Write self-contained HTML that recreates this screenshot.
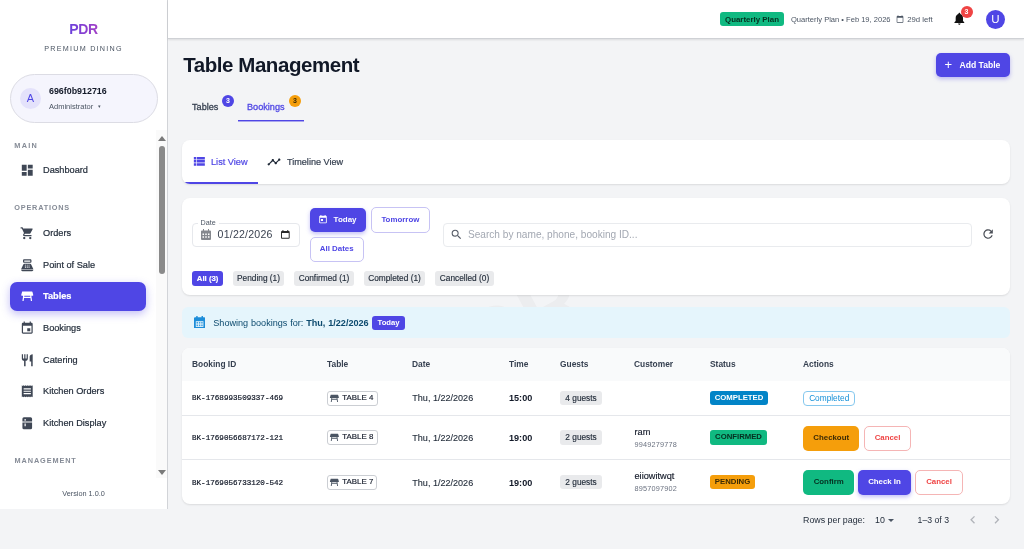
<!DOCTYPE html>
<html lang="en">
<head>
<meta charset="utf-8">
<title>Table Management</title>
<style>
*{box-sizing:border-box;margin:0;padding:0}
html,body{width:1024px;height:549px;overflow:hidden}
body{font-family:"Liberation Sans",sans-serif;background:#f3f4f6;color:#1f2937;position:relative}
.abs{position:absolute}
/* sidebar */
#side{position:absolute;left:0;top:0;width:168px;height:509px;background:#fff;border-right:1px solid #d2d4d8}
#brand{position:absolute;left:0;top:21px;width:167px;text-align:center;font-weight:700;font-size:14px;letter-spacing:-0.3px;line-height:16px}
#brand span{background:linear-gradient(90deg,#6a40dc,#a23fc6);-webkit-background-clip:text;background-clip:text;color:transparent}
#brand2{position:absolute;left:0;top:43.700px;width:167px;text-align:center;font-size:7.2px;letter-spacing:1.25px;color:#4b5563}
#user{position:absolute;left:10px;top:74px;width:148px;height:49px;border-radius:25px;background:#f5f5fd;border:1px solid #dcdce4}
#user .av{position:absolute;left:9px;top:13px;width:21px;height:21px;border-radius:50%;background:#e4e2fb;color:#4f46e5;font-size:11px;text-align:center;line-height:20px}
#user .nm{position:absolute;left:38px;top:10.500px;font-size:8.900px;font-weight:700;color:#111827}
#user .rl{position:absolute;left:38px;top:26.600px;font-size:7.500px;color:#4b5563}
.sec{position:absolute;left:14.300px;font-size:7.300px;letter-spacing:0.9px;color:#858b96;font-weight:700}
.nav{position:absolute;left:10px;width:136px;height:29px;border-radius:7px;font-size:9.2px;color:#1f2937}
.nav span{position:absolute;left:33px;top:9.300px;font-weight:500;-webkit-text-stroke:0.2px currentColor}
.nav svg{position:absolute;left:9.500px;top:7.300px;width:14.500px;height:14.500px;fill:#3f4755}
.nav.on{background:#4f46e5;color:#fff;box-shadow:0 3px 8px rgba(79,70,229,.35)}
.nav.on span{font-weight:700}
.nav.on svg{fill:#fff}
#sbtrack{position:absolute;left:156px;top:130px;width:11px;height:348px;background:#fafafa}
#sbthumb{position:absolute;left:158.500px;top:145.500px;width:6.500px;height:128px;border-radius:3px;background:#8a8a8a}
#ver{position:absolute;left:0;top:488.700px;width:167px;text-align:center;font-size:7.300px;color:#4b5563}
/* topbar */
#top{position:absolute;left:168px;top:0;width:856px;height:39px;background:#fff;border-bottom:1px solid #cfd1d5;box-shadow:0 1px 2px rgba(0,0,0,.10)}

#top .plan{position:absolute;left:552px;top:12px;width:64px;height:14px;padding-top:0.500px;border-radius:3px;background:#10b981;color:#052e1f;font-size:7.900px;font-weight:700;text-align:center;line-height:14px}
#top .ptxt{position:absolute;left:623px;top:15.300px;font-size:7.550px;color:#4b5563;white-space:nowrap}
#bell{position:absolute;left:784.100px;top:11.200px;width:14.700px;height:15.200px}
#bbadge{position:absolute;left:792.500px;top:5.900px;width:12px;height:12px;border-radius:50%;background:#ef4444;color:#fff;font-size:7px;font-weight:700;text-align:center;line-height:12px}
#uav{position:absolute;left:818px;top:10px;width:19px;height:19px;border-radius:50%;background:#4f46e5;color:#fff;font-size:11.5px;text-align:center;line-height:19px}
h1{position:absolute;left:183.200px;top:53px;font-size:20.500px;font-weight:700;color:#111827;white-space:nowrap;letter-spacing:-0.44px}
#addbtn{position:absolute;left:935.600px;top:53px;width:74.400px;height:24px;border-radius:5px;background:#4f46e5;color:#fff;font-size:8.600px;font-weight:700;box-shadow:0 2px 4px rgba(79,70,229,.35)}
.tab{position:absolute;top:101.700px;font-size:9.150px;font-weight:500;-webkit-text-stroke:0.28px currentColor;white-space:nowrap}
.bdg{position:absolute;top:95px;width:12px;height:12px;border-radius:50%;font-size:7px;font-weight:700;text-align:center;line-height:12.600px}
.card{position:absolute;left:182px;width:828px;background:#fff;border-radius:8px;box-shadow:0 1px 2px rgba(0,0,0,.10)}
.obtn{position:absolute;border:1px solid #c7c3f4;border-radius:5px;background:#fff;color:#4f46e5;font-size:7.900px;font-weight:700;text-align:center}
.chip{position:absolute;top:271.200px;height:14.500px;border-radius:3px;background:#e9eaec;color:#1f2937;font-size:8.300px;font-weight:500;text-align:center;line-height:15px;white-space:nowrap;-webkit-text-stroke:0.15px currentColor}
.th{position:absolute;top:358.800px;font-size:8.400px;font-weight:700;color:#374151;white-space:nowrap}
.mono{position:absolute;left:192px;font-family:"Liberation Mono",monospace;font-size:7.600px;color:#111827;white-space:nowrap;font-weight:500;-webkit-text-stroke:0.2px #111827}
.tchip{position:absolute;left:327px;height:14.700px;border:1px solid #cbced3;border-radius:3px;background:#fff;font-size:7.900px;color:#111827;line-height:12.700px;white-space:nowrap;-webkit-text-stroke:0.15px #111827}
.tchip svg{position:absolute;left:1px;top:0.900px;width:10.800px;height:10.800px;fill:#4b5563}
.tchip span{position:absolute;left:14.300px;top:0}
.dt{position:absolute;left:412.300px;font-size:9.050px;color:#1f2937;white-space:nowrap;margin-top:-0.300px;-webkit-text-stroke:0.12px #1f2937}
.tm{position:absolute;left:509px;margin-top:0.900px;font-size:9.100px;font-weight:700;color:#111827}
.gchip{position:absolute;left:560.300px;width:41.500px;height:14.300px;border-radius:3px;background:#e9eaec;font-size:8.300px;color:#1f2937;text-align:center;line-height:14.500px;font-weight:500;-webkit-text-stroke:0.15px #1f2937}
.cn{position:absolute;left:634.500px;font-size:9.200px;margin-top:-0.300px;-webkit-text-stroke:0.15px #111827;color:#111827;white-space:nowrap}
.cp{position:absolute;left:634.500px;margin-top:0.400px;font-size:7.300px;color:#6b7280;white-space:nowrap;letter-spacing:.2px}
.st{position:absolute;left:710px;height:14.300px;border-radius:3px;font-size:7.750px;font-weight:700;text-align:center;line-height:14.500px;letter-spacing:0}
.ab{position:absolute;height:25px;border-radius:5px;font-size:7.850px;font-weight:700;text-align:center;line-height:23.400px}
.hr{position:absolute;left:182px;width:828px;height:1px;background:#e5e7eb}
.pg{position:absolute;top:514.900px;font-size:8.850px;color:#1f2937;white-space:nowrap}
</style>
</head>
<body>
<div id="side">
  <div id="brand"><span>PDR</span></div>
  <div id="brand2">PREMIUM DINING</div>
  <div id="user"><div class="av">A</div><div class="nm">696f0b912716</div><div class="rl">Administrator &nbsp;<span style="font-size:4.200px;position:relative;top:-1px">▼</span></div></div>
  <div class="sec" style="top:140.500px;letter-spacing:1.25px">MAIN</div>
  <div class="nav" style="top:155.700px"><svg viewBox="0 0 24 24"><path d="M3 13h8V3H3v10zm0 8h8v-6H3v6zm10 0h8V11h-8v10zm0-18v6h8V3h-8z"/></svg><span>Dashboard</span></div>
  <div class="sec" style="top:203px;letter-spacing:0.8px">OPERATIONS</div>
  <div class="nav" style="top:218.600px"><svg viewBox="0 0 24 24"><path d="M7 18c-1.1 0-1.99.9-1.99 2S5.900 22 7 22s2-.9 2-2-.9-2-2-2zM1 2v2h2l3.600 7.590-1.350 2.450c-.16.28-.25.61-.25.96 0 1.100.9 2 2 2h12v-2H7.420c-.14 0-.25-.11-.25-.25l.03-.12.9-1.630h7.450c.75 0 1.410-.41 1.750-1.030l3.580-6.490A1.003 1.003 0 0 0 20 4H5.210l-.94-2H1zm16 16c-1.100 0-1.990.9-1.990 2s.89 2 1.990 2 2-.9 2-2-.9-2-2-2z"/></svg><span>Orders</span></div>
  <div class="nav" style="top:250.600px"><svg viewBox="0 0 24 24"><path d="M17 2H7c-1.100 0-2 .9-2 2v2c0 1.100.9 2 2 2h10c1.100 0 2-.9 2-2V4c0-1.100-.9-2-2-2zm0 4H7V4h10v2zm3 16H4c-1.100 0-2-.9-2-2v-1h20v1c0 1.100-.9 2-2 2zm-1.470-11.190C18.210 10.060 17.490 9.600 16.700 9.600H7.300c-.79 0-1.510.46-1.830 1.190L2 18h20l-3.470-7.190zM9.500 16h-1c-.28 0-.5-.22-.5-.5s.22-.5.5-.5h1c.28 0 .5.22.5.5s-.22.5-.5.5zm0-2h-1c-.28 0-.5-.22-.5-.5s.22-.5.5-.5h1c.28 0 .5.22.5.5s-.22.5-.5.5zm0-2h-1c-.28 0-.5-.22-.5-.5s.22-.5.5-.5h1c.28 0 .5.220.5.500s-.22.500-.5.500zm3 4h-1c-.28 0-.5-.22-.5-.5s.22-.5.5-.5h1c.28 0 .5.220.5.500s-.22.500-.5.500zm0-2h-1c-.28 0-.5-.22-.5-.5s.22-.5.5-.5h1c.28 0 .5.220.5.500s-.22.500-.5.500zm0-2h-1c-.28 0-.5-.22-.5-.5s.22-.5.5-.5h1c.28 0 .5.220.5.500s-.22.500-.5.500zm3 4h-1c-.28 0-.5-.22-.5-.5s.22-.5.5-.5h1c.28 0 .5.220.5.500s-.22.500-.5.500zm0-2h-1c-.28 0-.5-.22-.5-.5s.22-.5.5-.5h1c.28 0 .5.220.5.500s-.22.500-.5.500zm0-2h-1c-.28 0-.5-.22-.5-.5s.22-.5.5-.5h1c.28 0 .5.220.5.500s-.22.500-.5.500z"/></svg><span>Point of Sale</span></div>
  <div class="nav on" style="top:281.800px"><svg viewBox="0 0 24 24"><path d="M22 7.500C22 5.570 17.520 4 12 4S2 5.570 2 7.500c0 1.810 3.950 3.310 9 3.480V15H9.350c-.82 0-1.550.5-1.860 1.260L6 20h2l1.200-3h5.600l1.200 3h2l-1.500-3.740c-.3-.76-1.040-1.260-1.850-1.260H13v-4.020c5.050-.17 9-1.670 9-3.480z" style="display:none"/><path d="M21.960 9.730l-1.430-5a.996.996 0 0 0-.96-.73H4.430c-.45 0-.84.3-.96.730l-1.430 5c-.18.630.3 1.270.96 1.270h2.200L4 20h2l.67-5h10.670l.66 5h2l-1.200-9H21c.66 0 1.140-.64.960-1.270zM6.930 13l.27-2h9.600l.27 2H6.930z"/></svg><span>Tables</span></div>
  <div class="nav" style="top:313.400px"><svg viewBox="0 0 24 24"><path d="M17 12h-5v5h5v-5zM16 1v2H8V1H6v2H5c-1.110 0-1.990.9-1.990 2L3 19c0 1.100.89 2 2 2h14c1.100 0 2-.9 2-2V5c0-1.100-.9-2-2-2h-1V1h-2zm3 18H5V8h14v11z"/></svg><span>Bookings</span></div>
  <div class="nav" style="top:345.600px"><svg viewBox="0 0 24 24"><path d="M11 9H9V2H7v7H5V2H3v7c0 2.120 1.660 3.840 3.750 3.970V22h2.500v-9.030C11.340 12.840 13 11.120 13 9V2h-2v7zm5-3v8h2.500v8H21V2c-2.760 0-5 2.240-5 4z"/></svg><span>Catering</span></div>
  <div class="nav" style="top:376.600px"><svg viewBox="0 0 24 24"><path d="M18 17H6v-2h12v2zm0-4H6v-2h12v2zm0-4H6V7h12v2zM3 22l1.500-1.500L6 22l1.500-1.500L9 22l1.500-1.500L12 22l1.500-1.500L15 22l1.500-1.500L18 22l1.500-1.500L21 22V2l-1.500 1.500L18 2l-1.500 1.500L15 2l-1.500 1.500L12 2l-1.500 1.500L9 2 7.500 3.500 6 2 4.500 3.500 3 2v20z"/></svg><span>Kitchen Orders</span></div>
  <div class="nav" style="top:409.200px"><svg viewBox="0 0 24 24"><path d="M6.500 2h11A2.500 2.500 0 0 1 20 4.500V9.200H4V4.500A2.500 2.500 0 0 1 6.500 2zM4 10.800h16v8.700a2.500 2.500 0 0 1-2.500 2.500h-11A2.500 2.500 0 0 1 4 19.500z"/><path d="M7.500 5h2v3h-2zM7.500 12.500h2v4.500h-2z" fill="#fff"/></svg><span>Kitchen Display</span></div>
  <div class="sec" style="top:455.500px;left:14.600px">MANAGEMENT</div>
  <div id="sbtrack"></div><div id="sbthumb"></div>
  <div class="abs" style="left:158px;top:135.500px;width:0;height:0;border-left:4px solid transparent;border-right:4px solid transparent;border-bottom:5px solid #7a7a7a"></div>
  <div class="abs" style="left:158px;top:470px;width:0;height:0;border-left:4px solid transparent;border-right:4px solid transparent;border-top:5px solid #7a7a7a"></div>
  <div id="ver">Version 1.0.0</div>
</div>
<div id="top">
  <div class="plan">Quarterly Plan</div>
  <div class="ptxt">Quarterly Plan • Feb 19, 2026</div>
  <svg class="abs" style="left:728px;top:15px;width:8px;height:8px" viewBox="0 0 24 24"><path fill="#4b5563" d="M20 3h-1V1h-2v2H7V1H5v2H4c-1.100 0-2 .9-2 2v16c0 1.100.9 2 2 2h16c1.100 0 2-.9 2-2V5c0-1.100-.9-2-2-2zm0 18H4V8h16v13z"/></svg>
  <div class="ptxt" style="left:739.200px;font-size:7.750px">29d left</div>
  <svg id="bell" viewBox="0 0 24 24"><path fill="#111" d="M12 22c1.100 0 2-.9 2-2h-4c0 1.100.89 2 2 2zm6-6v-5c0-3.070-1.640-5.640-4.500-6.320V4c0-.83-.67-1.500-1.500-1.500s-1.500.67-1.500 1.500v.68C7.630 5.360 6 7.920 6 11v5l-2 2v1h16v-1l-2-2z"/></svg>
  <div id="bbadge">3</div>
  <div id="uav">U</div>
</div>
<div id="main">
<div class="abs" style="left:455px;top:268px;width:180px;height:40px;overflow:hidden"><div class="abs" style="left:8px;top:2px;font-size:84px;font-weight:700;line-height:100px;color:rgba(17,24,39,0.03);transform:rotate(-28deg);white-space:nowrap">DR</div></div>
<h1>Table Management</h1>
<div id="addbtn"><span class="abs" style="left:9px;top:6px;font-size:13px;font-weight:400;line-height:12px">+</span><span class="abs" style="left:23.900px;top:7px;white-space:nowrap">Add Table</span></div>
<div class="tab" style="left:192px;color:#374151">Tables</div>
<div class="bdg" style="left:222px;background:#4f46e5;color:#fff">3</div>
<div class="tab" style="left:247px;color:#4f46e5">Bookings</div>
<div class="bdg" style="left:289px;background:#f59e0b;color:#3b2a05">3</div>
<div class="abs" style="left:237.800px;top:120px;width:66.600px;height:2px;background:linear-gradient(#4f46e5 50%,rgba(79,70,229,.45) 50%)"></div>

<div class="card" style="top:140px;height:44px;overflow:hidden">
  <svg class="abs" style="left:9.850px;top:14.150px;width:14.700px;height:14.700px" viewBox="0 0 24 24"><path fill="#4f46e5" d="M3 14h4v-4H3v4zm0 5h4v-4H3v4zM3 9h4V5H3v4zm5 5h13v-4H8v4zm0 5h13v-4H8v4zM8 5v4h13V5H8z"/></svg>
  <div class="abs" style="left:29px;top:16.500px;font-size:9.200px;font-weight:500;color:#4f46e5;white-space:nowrap;-webkit-text-stroke:0.2px #4f46e5">List View</div>
  <svg class="abs" style="left:85px;top:15px;width:14px;height:14px" viewBox="0 0 24 24"><path fill="#1f2937" d="M23 8c0 1.100-.9 2-2 2-.18 0-.35-.02-.51-.07l-3.560 3.550c.05.16.07.34.07.52 0 1.100-.9 2-2 2s-2-.9-2-2c0-.18.02-.36.07-.52l-2.550-2.550c-.16.05-.34.07-.52.070s-.36-.02-.52-.07l-4.550 4.560c.05.16.07.33.07.51 0 1.100-.9 2-2 2s-2-.9-2-2 .9-2 2-2c.18 0 .35.020.51.070l4.560-4.550C8.020 9.360 8 9.180 8 9c0-1.100.9-2 2-2s2 .9 2 2c0 .18-.02.360-.07.520l2.550 2.550c.16-.05.34-.07.52-.07s.36.020.52.070l3.550-3.560C19.020 8.350 19 8.180 19 8c0-1.100.9-2 2-2s2 .9 2 2z"/></svg>
  <div class="abs" style="left:105px;top:16.500px;font-size:9.100px;font-weight:500;color:#374151;white-space:nowrap;-webkit-text-stroke:0.2px #374151">Timeline View</div>
  <div class="abs" style="left:0;top:42.200px;width:76px;height:1.800px;background:#4f46e5"></div>
</div>

<div class="card" style="top:198px;height:97px"></div>
<div class="abs" style="left:192px;top:222.500px;width:107.500px;height:24.200px;border:1px solid #e6e8ec;border-radius:4px;background:#fff"></div>
<div class="abs" style="left:197.500px;top:219px;padding:0 3px;background:#fff;font-size:7.200px;color:#4b5563;line-height:8px">Date</div>
<svg class="abs" style="left:201px;top:229px;width:10px;height:11px" viewBox="0 0 20 22"><path fill="#85888e" d="M4 0h2v3h8V0h2v3h2a2 2 0 0 1 2 2v15a2 2 0 0 1-2 2H2a2 2 0 0 1-2-2V5a2 2 0 0 1 2-2h2V0z"/><g fill="#fff"><rect x="3" y="9" width="3" height="3"/><rect x="8.500" y="9" width="3" height="3"/><rect x="14" y="9" width="3" height="3"/><rect x="3" y="14.500" width="3" height="3"/><rect x="8.500" y="14.500" width="3" height="3"/><rect x="14" y="14.500" width="3" height="3"/></g></svg>
<div class="abs" style="left:217.600px;top:228.100px;font-size:10.600px;color:#3b4351;letter-spacing:0.2px;white-space:nowrap">01/22/2026</div>
<svg class="abs" style="left:281px;top:230.200px;width:8.700px;height:8.700px" viewBox="0 0 18 18"><path fill="#2a2a2a" d="M3 0h2v2h8V0h2v2h1a2 2 0 0 1 2 2v12a2 2 0 0 1-2 2H2a2 2 0 0 1-2-2V4a2 2 0 0 1 2-2h1V0zm-1 6v10h14V6H2z"/></svg>

<div class="abs" style="left:309.500px;top:207.700px;width:56.400px;height:24.300px;border-radius:5px;background:#4f46e5;box-shadow:0 2px 4px rgba(79,70,229,.35)"></div>
<svg class="abs" style="left:318px;top:214px;width:10px;height:11px" viewBox="0 0 24 24"><path fill="#fff" d="M19 3h-1V1h-2v2H8V1H6v2H5c-1.110 0-1.990.9-1.990 2L3 19c0 1.100.89 2 2 2h14c1.100 0 2-.9 2-2V5c0-1.100-.9-2-2-2zm0 16H5V8h14v11zM7 10.500h5v5H7z"/></svg>
<div class="abs" style="left:333.600px;top:215px;font-size:8px;font-weight:700;color:#fff">Today</div>
<div class="obtn" style="left:371px;top:207.200px;width:58.800px;height:25.400px;line-height:23px">Tomorrow</div>
<div class="obtn" style="left:309.500px;top:237.200px;width:54.400px;height:24.800px;line-height:21px">All Dates</div>

<div class="abs" style="left:443px;top:222.700px;width:528.500px;height:24px;border:1px solid #e9ebee;border-radius:4px;background:#fff"></div>
<svg class="abs" style="left:450.400px;top:228.100px;width:13px;height:13px" viewBox="0 0 24 24"><path fill="#555b66" d="M15.500 14h-.79l-.28-.27A6.471 6.471 0 0 0 16 9.500 6.500 6.500 0 1 0 9.500 16c1.610 0 3.090-.59 4.230-1.570l.27.28v.79l5 4.990L20.490 19l-4.990-5zm-6 0C7.010 14 5 11.990 5 9.500S7.010 5 9.500 5 14 7.010 14 9.500 11.990 14 9.500 14z"/></svg>
<div class="abs" style="left:468px;top:228.500px;font-size:10.100px;color:#a3a8b2;white-space:nowrap">Search by name, phone, booking ID...</div>
<svg class="abs" style="left:980.900px;top:227.200px;width:14.200px;height:14.200px" viewBox="0 0 24 24"><path fill="#4b4f57" d="M17.650 6.350A7.958 7.958 0 0 0 12 4c-4.420 0-7.990 3.580-7.990 8s3.570 8 7.990 8c3.730 0 6.840-2.550 7.730-6h-2.080A5.990 5.990 0 0 1 12 18c-3.310 0-6-2.690-6-6s2.690-6 6-6c1.660 0 3.140.69 4.220 1.780L13 11h7V4l-2.350 2.350z"/></svg>

<div class="chip" style="left:192px;width:31.300px;background:#4f46e5;color:#fff;font-weight:700;font-size:7.800px">All (3)</div>
<div class="chip" style="left:233px;width:51px">Pending (1)</div>
<div class="chip" style="left:294px;width:60px">Confirmed (1)</div>
<div class="chip" style="left:364px;width:61px">Completed (1)</div>
<div class="chip" style="left:435px;width:59px">Cancelled (0)</div>

<div class="abs" style="left:182px;top:307px;width:828px;height:31px;border-radius:6px;background:#e5f5fc"></div>
<svg class="abs" style="left:193.600px;top:315.600px;width:11.200px;height:12.700px" viewBox="0 0 20 22" preserveAspectRatio="none"><path fill="#1c8dd9" d="M4 0h2.500v2h7V0H16v2h2a2 2 0 0 1 2 2v16a2 2 0 0 1-2 2H2a2 2 0 0 1-2-2V4a2 2 0 0 1 2-2h2V0z"/><rect x="3.200" y="9" width="13.600" height="10" fill="#e5f5fc"/><g fill="#3d9fe0"><rect x="4.500" y="10.300" width="2.600" height="2.800"/><rect x="8.700" y="10.300" width="2.600" height="2.800"/><rect x="12.900" y="10.300" width="2.600" height="2.800"/><rect x="4.500" y="14.800" width="2.600" height="2.800"/><rect x="8.700" y="14.800" width="2.600" height="2.800"/><rect x="12.900" y="14.800" width="2.600" height="2.800"/></g></svg>
<div class="abs" style="left:213.300px;top:317.500px;font-size:9.100px;color:#0c4a6e;white-space:nowrap;word-spacing:0.3px">Showing bookings for: <b>Thu, 1/22/2026</b></div>
<div class="abs" style="left:372.400px;top:315.500px;width:32.400px;height:14px;border-radius:3px;background:#4f46e5;color:#fff;font-size:7.700px;font-weight:700;text-align:center;line-height:13px">Today</div>

<div class="card" style="top:348px;height:156.300px;overflow:hidden"><div class="abs" style="left:0;top:0;width:828px;height:33px;background:#f9fafb"></div></div>
<div class="th" style="left:192px">Booking ID</div>
<div class="th" style="left:327px">Table</div>
<div class="th" style="left:412px">Date</div>
<div class="th" style="left:509px">Time</div>
<div class="th" style="left:560px">Guests</div>
<div class="th" style="left:634px">Customer</div>
<div class="th" style="left:710px">Status</div>
<div class="th" style="left:803px">Actions</div>
<div class="hr" style="top:415px"></div>
<div class="hr" style="top:459px"></div>

<div class="mono" style="top:394px">BK-1768993509337-469</div>
<div class="mono" style="top:434px">BK-1769056687172-121</div>
<div class="mono" style="top:478.800px">BK-1769056733120-542</div>

<div class="tchip" style="top:391px;width:51px"><svg viewBox="0 0 24 24"><path d="M21.960 9.730l-1.430-5a.996.996 0 0 0-.96-.73H4.430c-.45 0-.84.3-.96.730l-1.430 5c-.18.630.3 1.270.96 1.270h2.200L4 20h2l.67-5h10.670l.66 5h2l-1.200-9H21c.66 0 1.140-.64.960-1.270zM6.930 13l.27-2h9.600l.27 2H6.930z"/></svg><span>TABLE 4</span></div>
<div class="tchip" style="top:430.300px;width:51px"><svg viewBox="0 0 24 24"><path d="M21.960 9.730l-1.430-5a.996.996 0 0 0-.96-.73H4.430c-.45 0-.84.3-.96.730l-1.430 5c-.18.630.3 1.270.96 1.270h2.200L4 20h2l.67-5h10.670l.66 5h2l-1.200-9H21c.66 0 1.140-.64.960-1.270zM6.930 13l.27-2h9.600l.27 2H6.930z"/></svg><span>TABLE 8</span></div>
<div class="tchip" style="top:475px;width:50px"><svg viewBox="0 0 24 24"><path d="M21.960 9.730l-1.430-5a.996.996 0 0 0-.96-.73H4.430c-.45 0-.84.3-.96.730l-1.430 5c-.18.630.3 1.270.96 1.270h2.200L4 20h2l.67-5h10.670l.66 5h2l-1.200-9H21c.66 0 1.140-.64.960-1.270zM6.930 13l.27-2h9.600l.27 2H6.930z"/></svg><span>TABLE 7</span></div>

<div class="dt" style="top:393px">Thu, 1/22/2026</div>
<div class="dt" style="top:433px">Thu, 1/22/2026</div>
<div class="dt" style="top:477.800px">Thu, 1/22/2026</div>
<div class="tm" style="top:392px">15:00</div>
<div class="tm" style="top:432px">19:00</div>
<div class="tm" style="top:476.800px">19:00</div>
<div class="gchip" style="top:391px">4 guests</div>
<div class="gchip" style="top:430.400px">2 guests</div>
<div class="gchip" style="top:475px">2 guests</div>
<div class="cn" style="top:427px">ram</div>
<div class="cp" style="top:440px">9949279778</div>
<div class="cn" style="top:471px">eiiowitwqt</div>
<div class="cp" style="top:484px">8957097902</div>
<div class="st" style="top:391px;width:58px;background:#0284c7;color:#fff">COMPLETED</div>
<div class="st" style="top:430.400px;width:57px;background:#10b981;color:#052e1f">CONFIRMED</div>
<div class="st" style="top:475px;width:45px;background:#f59e0b;color:#3b2a05">PENDING</div>

<div class="abs" style="left:803.400px;top:391px;width:51.600px;height:14.800px;border:1px solid #86c8ee;border-radius:4px;background:#fff;color:#1590d8;font-size:8.300px;text-align:center;line-height:12.600px">Completed</div>
<div class="ab" style="left:803.400px;top:426px;width:55.600px;background:#f59e0b;color:#3b2a05">Checkout</div>
<div class="ab" style="left:864px;top:426px;width:47px;background:#fff;border:1px solid #f5b5b5;color:#ef4444;line-height:21.400px">Cancel</div>
<div class="ab" style="left:803.400px;top:470px;width:50.600px;background:#10b981;color:#052e1f;line-height:24.600px">Confirm</div>
<div class="ab" style="left:858px;top:470px;width:53px;background:#4f46e5;color:#fff;box-shadow:0 2px 4px rgba(79,70,229,.35);line-height:24.600px">Check In</div>
<div class="ab" style="left:915px;top:470px;width:48px;background:#fff;border:1px solid #f5b5b5;color:#ef4444;line-height:22.600px">Cancel</div>

<div class="pg" style="left:803px">Rows per page:</div>
<div class="pg" style="left:875px">10</div>
<div class="abs" style="left:888.300px;top:518.600px;width:0;height:0;border-left:3px solid transparent;border-right:3px solid transparent;border-top:3.500px solid #4b5563"></div>
<div class="pg" style="left:917.600px;font-size:8.700px">1–3 of 3</div>
<svg class="abs" style="left:964.600px;top:511.900px;width:15.500px;height:15.500px" viewBox="0 0 24 24"><path fill="#b0b3b9" d="M15.410 7.410L14 6l-6 6 6 6 1.410-1.410L10.830 12z"/></svg>
<svg class="abs" style="left:989.300px;top:511.900px;width:15.500px;height:15.500px" viewBox="0 0 24 24"><path fill="#b0b3b9" d="M10 6L8.590 7.410 13.170 12l-4.580 4.590L10 18l6-6z"/></svg>
</div>
</body>
</html>
